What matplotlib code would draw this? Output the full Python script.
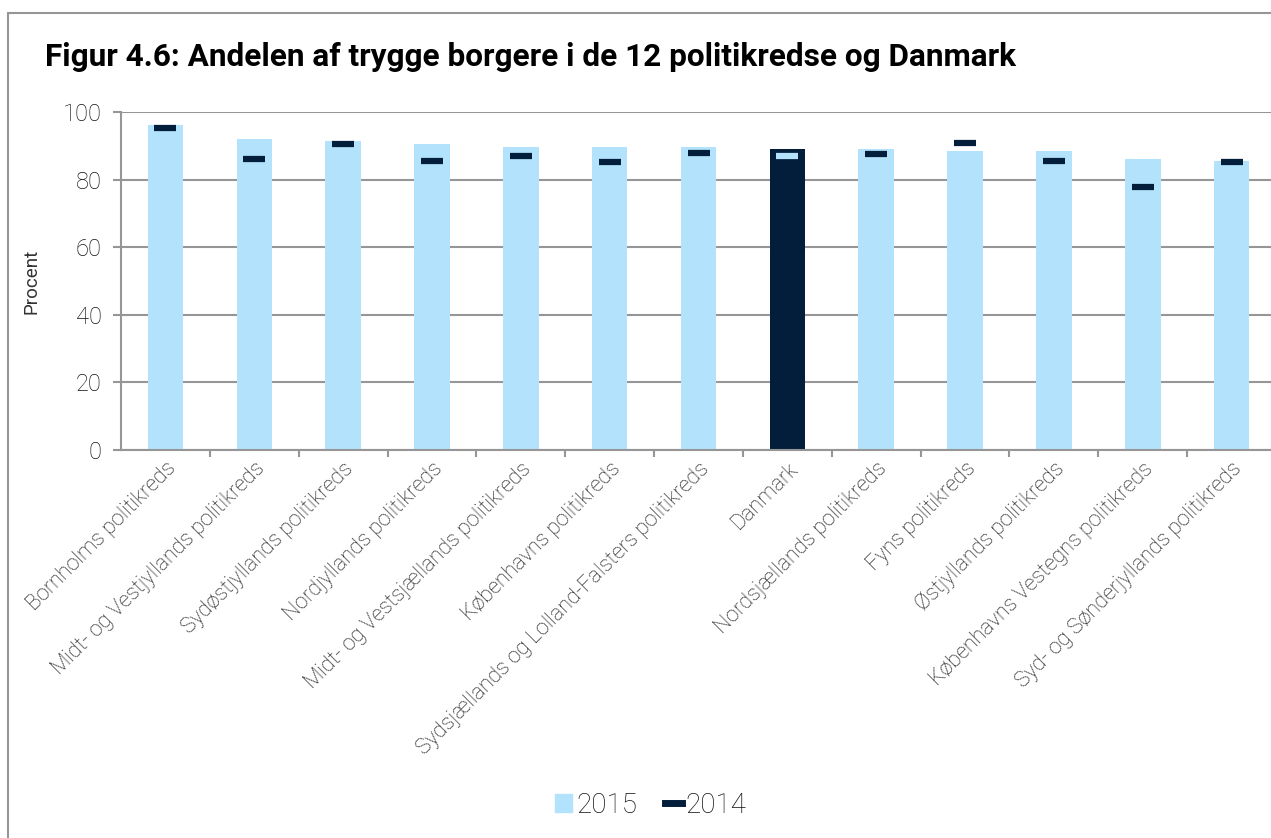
import matplotlib.pyplot as plt
import numpy as np
from matplotlib.patches import Rectangle
from matplotlib.lines import Line2D

# data
kredse = ["Bornholms politikreds", "Midt- og Vestjyllands politikreds",
          "Sydøstjyllands politikreds", "Nordjyllands politikreds",
          "Midt- og Vestsjællands politikreds", "Københavns politikreds",
          "Sydsjællands og Lolland-Falsters politikreds", "Danmark",
          "Nordsjællands politikreds", "Fyns politikreds",
          "Østjyllands politikreds", "Københavns Vestegns politikreds",
          "Syd- og Sønderjyllands politikreds"]
vals_2015 = [96.2, 92.0, 91.4, 90.4, 89.7, 89.7, 89.7, 89.2, 89.1, 88.5, 88.5, 86.1, 85.5]
vals_2014 = [95.3, 86.0, 90.6, 85.5, 87.1, 85.1, 87.8, 87.0, 87.7, 90.9, 85.5, 77.9, 85.3]
yticks = [0, 20, 40, 60, 80, 100]

light = "#b3e3fc"
dark = "#021e3b"
grey = "#969696"
txt = "#111111"

plt.rcParams['font.family'] = ['Roboto', 'DejaVu Sans']

fig = plt.figure(figsize=(12.71, 8.38), dpi=100)
ax = fig.add_axes([121 / 1271, 1 - 450 / 838, 1155 / 1271, 338 / 838])

x = np.arange(len(kredse))
bar_cols = [dark if k == "Danmark" else light for k in kredse]
mark_cols = [light if k == "Danmark" else dark for k in kredse]
ax.bar(x, vals_2015, width=0.4, color=bar_cols, zorder=2)
for xi, v, c in zip(x, vals_2014, mark_cols):
    ax.plot(xi, v, marker="_", markersize=16, markeredgewidth=4.5,
            color=c, zorder=3)

ax.set_xlim(-0.5, len(kredse) - 0.5)
ax.set_ylim(0, 100)
ax.set_yticks(yticks)
ax.yaxis.grid(True, color=grey, linewidth=1.5, zorder=0)
ax.set_axisbelow(True)
for s in ["top", "right"]:
    ax.spines[s].set_visible(False)
for s in ["left", "bottom"]:
    ax.spines[s].set_color(grey)
    ax.spines[s].set_linewidth(1.5)

ax.set_xticks(x)
ax.set_xticklabels(kredse, rotation=45, ha="right", rotation_mode="anchor",
                   fontsize=15.5, fontweight="light", color=txt)
ax.set_xticks(np.arange(0.5, len(kredse) - 1, 1), minor=True)
ax.tick_params(axis="x", which="major", length=0, pad=6)
ax.tick_params(axis="x", which="minor", length=5, width=1.5, color=grey)
ax.tick_params(axis="y", length=6, width=1.5, color=grey, pad=8,
               labelsize=17, labelcolor=txt)
for lab in ax.get_yticklabels():
    lab.set_fontweight("light")

ax.set_ylabel("Procent", fontsize=13.5, fontweight="normal", color="#333333")
ax.yaxis.set_label_coords(-80 / 1155, 0.5)

fig.text(45 / 1271, 1 - 57 / 838, "Figur 4.6: Andelen af trygge borgere i de 12 politikredse og Danmark",
         fontsize=22.7, fontweight="bold", va="center", ha="left", color="black")

handles = [Rectangle((0, 0), 1, 1, color=light),
           Line2D([], [], color=dark, linewidth=5)]
fig.legend(handles, ["2015", "2014"], loc="center", bbox_to_anchor=(651 / 1271, 1 - 805 / 838),
           ncol=2, frameon=False, handlelength=0.6, handleheight=0.6, handletextpad=0.15,
           columnspacing=1.0, prop={"weight": "light", "size": 20}, labelcolor=txt)

fig.patches.append(Rectangle((8 / 1271, -0.1), 1.2, 1.1 - 13 / 838,
                             transform=fig.transFigure, fill=False,
                             edgecolor=grey, linewidth=1.5))

fig.savefig("out.png", dpi=100)
